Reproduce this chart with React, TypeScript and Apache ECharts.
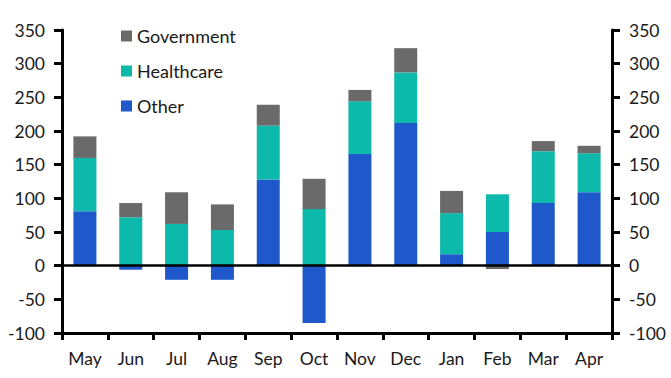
import React, { useEffect, useRef } from "react";
import * as echarts from "echarts";

const categories = ["May", "Jun", "Jul", "Aug", "Sep", "Oct", "Nov", "Dec", "Jan", "Feb", "Mar", "Apr"];
const otherValues = [81, -6, -21, -21, 128, -85, 166, 212, 17, 50, 93, 109];
const healthcareValues = [79, 72, 62, 53, 80, 84, 78, 75, 61, 56, 77, 58];
const governmentValues = [32, 21, 47, 38, 31, 45, 17, 36, 33, -5, 15, 11];

const FONT = "Lato";
const TEXT = "#1a1a1a";

export default function App() {
  const ref = useRef<HTMLDivElement>(null);
  useEffect(() => {
    if (!ref.current) return;
    const chart = echarts.init(ref.current, undefined, { renderer: "svg" });
    const yAxisBase = {
      type: "value" as const,
      min: -100,
      max: 350,
      interval: 50,
      axisLine: { show: true, lineStyle: { color: "#000", width: 3 } },
      axisTick: { show: true, length: 8, lineStyle: { color: "#000", width: 3 } },
      splitLine: { show: false },
      axisLabel: { color: TEXT, fontFamily: FONT, fontSize: 17.5, margin: 17 },
    };
    chart.setOption({
      animation: false,
      textStyle: { fontFamily: FONT },
      grid: { left: 62, right: 59, top: 30, bottom: 45, containLabel: false },
      legend: {
        orient: "vertical",
        left: 116,
        top: 22,
        itemWidth: 11,
        itemHeight: 11,
        itemGap: 17,
        icon: "rect",
        data: ["Government", "Healthcare", "Other"],
        textStyle: { color: TEXT, fontFamily: FONT, fontSize: 18 },
      },
      xAxis: {
        type: "category",
        data: categories,
        axisLine: { onZero: false, lineStyle: { color: "#000", width: 3 } },
        axisTick: { show: true, length: 7, alignWithLabel: false, lineStyle: { color: "#000", width: 3 } },
        axisLabel: { color: TEXT, fontFamily: FONT, fontSize: 17.5, margin: 16 },
      },
      yAxis: [
        { ...yAxisBase, position: "left" },
        { ...yAxisBase, position: "right" },
      ],
      series: [
        {
          name: "Other",
          type: "bar",
          stack: "total",
          data: otherValues,
          barWidth: 23,
          itemStyle: { color: "#1F58CB" },
          markLine: {
            silent: true,
            symbol: "none",
            label: { show: false },
            lineStyle: { color: "#000", width: 2.5, type: "solid" },
            data: [{ yAxis: 0 }],
            z: 10,
          },
        },
        {
          name: "Healthcare",
          type: "bar",
          stack: "total",
          data: healthcareValues,
          barWidth: 23,
          itemStyle: { color: "#0CB9AB" },
        },
        {
          name: "Government",
          type: "bar",
          stack: "total",
          data: governmentValues,
          barWidth: 23,
          itemStyle: { color: "#6A6A6A" },
        },
      ],
    });
    return () => chart.dispose();
  }, []);
  return <div ref={ref} style={{ width: 671, height: 378, position: "absolute", left: 0, top: 0 }} />;
}
